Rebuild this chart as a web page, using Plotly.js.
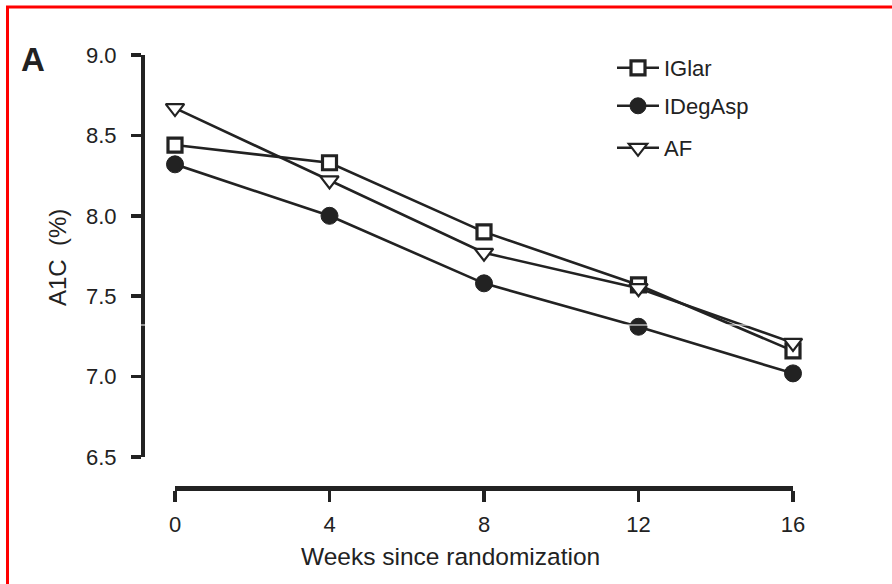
<!DOCTYPE html>
<html>
<head>
<meta charset="utf-8">
<script src="https://cdn.plot.ly/plotly-3.0.1.min.js"></script>
<style>
  html, body { margin: 0; padding: 0; background: #fff; }
  #chart { width: 892px; height: 584px; }
</style>
</head>
<body>
<div id="chart"></div>
<script>
// Weeks since randomization
const weeks = [0, 4, 8, 12, 16];
// Mean A1C (%) per treatment arm
const iglar = [8.44, 8.33, 7.90, 7.57, 7.16];
const idegasp = [8.32, 8.00, 7.58, 7.31, 7.02];
const af = [8.67, 8.22, 7.77, 7.55, 7.21];
const seriesNames = ['IGlar', 'IDegAsp', 'AF'];
const xTicks = [0, 4, 8, 12, 16];
const yTicks = [6.5, 7.0, 7.5, 8.0, 8.5, 9.0];

const W = 892, H = 584;
const px = v => v / W;          // pixel -> paper x
const py = v => 1 - v / H;      // pixel -> paper y

const ink = '#222222';
const font = 'Liberation Sans, Arial, Helvetica, sans-serif';

const traces = [
  {
    x: weeks, y: iglar, name: seriesNames[0], legend: 'legend',
    mode: 'lines+markers', cliponaxis: false,
    line: { color: ink, width: 2.6 },
    marker: { symbol: 'square', size: 14, color: '#ffffff', line: { color: ink, width: 3.2 } }
  },
  {
    x: weeks, y: idegasp, name: seriesNames[1], legend: 'legend2',
    mode: 'lines+markers', cliponaxis: false,
    line: { color: ink, width: 2.6 },
    marker: { symbol: 'circle', size: 17, color: ink, line: { color: ink, width: 1 } }
  },
  {
    x: weeks, y: af, name: seriesNames[2], legend: 'legend3',
    mode: 'lines+markers', cliponaxis: false,
    line: { color: ink, width: 2.6 },
    marker: { symbol: 'triangle-down', size: 16, color: '#ffffff', line: { color: ink, width: 2.2 } }
  }
];

function legendAt(yPix) {
  return {
    x: px(612), y: py(yPix), xanchor: 'left', yanchor: 'middle',
    bgcolor: 'rgba(0,0,0,0)', borderwidth: 0,
    font: { family: font, size: 22, color: ink },
    itemwidth: 42
  };
}

const layout = {
  width: W, height: H,
  autosize: false,
  margin: { l: 0, r: 0, t: 0, b: 0, pad: 0 },
  paper_bgcolor: '#ffffff',
  plot_bgcolor: 'rgba(0,0,0,0)',
  showlegend: true,
  legend: legendAt(68),
  legend2: legendAt(106),
  legend3: legendAt(148),
  xaxis: {
    domain: [px(175), px(793)],
    range: [0, 16],
    anchor: 'free',
    position: py(488),
    tickmode: 'array', tickvals: xTicks, ticktext: xTicks.map(String),
    showgrid: false, zeroline: false,
    showline: true, linecolor: ink, linewidth: 4.5,
    ticks: 'outside', ticklen: 11, tickwidth: 3.5, tickcolor: ink,
    ticklabelstandoff: 4,
    tickfont: { family: font, size: 22, color: ink },
    automargin: false
  },
  yaxis: {
    domain: [py(457), py(55)],
    range: [6.5, 9.0],
    anchor: 'free',
    position: px(143),
    tickmode: 'array', tickvals: yTicks, ticktext: yTicks.map(v => v.toFixed(1)),
    showgrid: false, zeroline: false,
    showline: true, linecolor: ink, linewidth: 4,
    ticks: 'outside', ticklen: 10, tickwidth: 3.5, tickcolor: ink,
    ticklabelstandoff: 10,
    tickfont: { family: font, size: 22, color: ink },
    automargin: false
  },
  annotations: [
    {
      text: 'A', xref: 'paper', yref: 'paper', x: px(33), y: py(59),
      xanchor: 'center', yanchor: 'middle', showarrow: false,
      font: { family: font, size: 33, color: ink, weight: 'bold' }
    },
    {
      text: 'A1C  (%)', xref: 'paper', yref: 'paper', x: px(58), y: py(257),
      xanchor: 'center', yanchor: 'middle', showarrow: false, textangle: -90,
      font: { family: font, size: 24, color: ink }
    },
    {
      text: 'Weeks since randomization', xref: 'paper', yref: 'paper', x: px(450), y: py(556),
      xanchor: 'center', yanchor: 'middle', showarrow: false,
      font: { family: font, size: 24.5, color: ink }
    }
  ],
  shapes: [
    // red frame (top and left edges)
    { type: 'line', xref: 'paper', yref: 'paper', x0: px(6), x1: 1, y0: py(7), y1: py(7),
      line: { color: '#ff0000', width: 3 } },
    { type: 'line', xref: 'paper', yref: 'paper', x0: px(7.5), x1: px(7.5), y0: py(6), y1: 0,
      line: { color: '#ff0000', width: 3 } },
    // thin white scan line across the figure
    { type: 'line', xref: 'paper', yref: 'paper', layer: 'above', x0: px(120), x1: px(820),
      y0: py(325), y1: py(325), line: { color: '#ffffff', width: 1.2 } }
  ]
};

Plotly.newPlot('chart', traces, layout, { staticPlot: true, displayModeBar: false });
</script>
</body>
</html>
